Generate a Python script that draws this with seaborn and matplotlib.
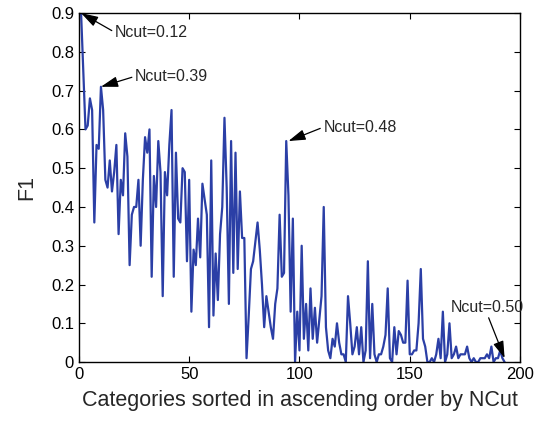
import matplotlib
matplotlib.use("Agg")
import matplotlib.pyplot as plt
import seaborn as sns
import pandas as pd

f1_part1 = [0.90, 0.75, 0.60, 0.61, 0.68, 0.65, 0.36, 0.56, 0.55, 0.71,
            0.65, 0.47, 0.45, 0.52, 0.44, 0.49, 0.56, 0.33, 0.47, 0.43,
            0.59, 0.53, 0.25, 0.38, 0.40, 0.40, 0.47, 0.30, 0.47, 0.58,
            0.54, 0.60, 0.22, 0.48, 0.40, 0.57, 0.49, 0.17, 0.49, 0.43,
            0.56, 0.65, 0.22, 0.54, 0.37, 0.36, 0.50, 0.49, 0.26, 0.47]
f1_part2 = [0.13, 0.29, 0.25, 0.37, 0.27, 0.46, 0.42, 0.38, 0.09, 0.52,
            0.12, 0.28, 0.16, 0.33, 0.40, 0.63, 0.45, 0.15, 0.57, 0.23,
            0.54, 0.24, 0.44, 0.32, 0.32, 0.01, 0.12, 0.24, 0.26, 0.31,
            0.36, 0.29, 0.20, 0.09, 0.17, 0.13, 0.09, 0.06, 0.15, 0.19,
            0.38, 0.22, 0.23, 0.57, 0.43, 0.13, 0.37, 0.00, 0.13, 0.03]
f1_part3 = [0.30, 0.06, 0.15, 0.03, 0.19, 0.06, 0.14, 0.05, 0.11, 0.17,
            0.40, 0.09, 0.03, 0.01, 0.06, 0.04, 0.10, 0.05, 0.02, 0.02,
            0.00, 0.17, 0.10, 0.02, 0.04, 0.09, 0.02, 0.09, 0.00, 0.03,
            0.26, 0.01, 0.15, 0.02, 0.00, 0.02, 0.02, 0.04, 0.07, 0.19,
            0.01, 0.00, 0.09, 0.02, 0.08, 0.07, 0.05, 0.05, 0.21, 0.02]
f1_part4 = [0.02, 0.03, 0.03, 0.10, 0.24, 0.06, 0.04, 0.00, 0.00, 0.01,
            0.00, 0.02, 0.06, 0.01, 0.13, 0.00, 0.02, 0.10, 0.01, 0.02,
            0.04, 0.01, 0.02, 0.02, 0.02, 0.04, 0.01, 0.00, 0.01, 0.00,
            0.00, 0.01, 0.01, 0.01, 0.02, 0.01, 0.04, 0.00, 0.01, 0.01,
            0.03, 0.01, 0.00]
f1_values = f1_part1 + f1_part2 + f1_part3 + f1_part4
categories = list(range(1, len(f1_values) + 1))

x_ticks = [0, 50, 100, 150, 200]
y_ticks = [0, 0.1, 0.2, 0.3, 0.4, 0.5, 0.6, 0.7, 0.8, 0.9]
y_tick_labels = ["0", "0.1", "0.2", "0.3", "0.4", "0.5", "0.6", "0.7", "0.8", "0.9"]

annotations = [
    ("Ncut=0.12", 1, 0.90),
    ("Ncut=0.39", 10, 0.71),
    ("Ncut=0.48", 95, 0.57),
    ("Ncut=0.50", 193, 0.01),
]
text_pos = [(16.4, 0.85), (25.5, 0.737), (110.9, 0.606), (168.6, 0.142)]

sns.set_style("ticks")
plt.rcParams["font.family"] = ["Liberation Sans", "DejaVu Sans"]
plt.rcParams["xtick.direction"] = "in"
plt.rcParams["ytick.direction"] = "in"

fig = plt.figure(figsize=(5.44, 4.22), dpi=100)
ax = fig.add_axes([0.145, 0.142, 0.811, 0.827])

df = pd.DataFrame({"cat": categories, "F1": f1_values})
sns.lineplot(data=df, x="cat", y="F1", ax=ax, color="#2b3fa6", linewidth=1.6)

ax.set_xlim(0, 200)
ax.set_ylim(0, 0.9)
ax.set_xticks(x_ticks)
ax.set_yticks(y_ticks)
ax.set_yticklabels(y_tick_labels)
ax.tick_params(axis="both", which="both", direction="in", top=True, right=True,
               labelsize=12, length=4, width=0.8, colors="black")
for s in ax.spines.values():
    s.set_linewidth(1.0)
    s.set_color("black")

ax.set_xlabel("Categories sorted in ascending order by NCut", fontsize=15.5, labelpad=6)
ax.set_ylabel("F1", fontsize=15.5, labelpad=10)

arrowprops = dict(arrowstyle="-|>,head_length=0.9,head_width=0.28", color="black",
                  lw=0.9, shrinkA=0, shrinkB=0)
for i, (txt, xv, yv) in enumerate(annotations):
    tx, ty = text_pos[i]
    if i == 3:
        ap = dict(arrowprops, relpos=(0.5, 0.0))
    else:
        ap = dict(arrowprops, relpos=(0.0, 0.5))
    ax.annotate(txt, xy=(xv, yv), xytext=(tx, ty), textcoords="data",
                fontsize=11.5, ha="left", va="center", arrowprops=ap,
                annotation_clip=False)

fig.savefig("out.png", dpi=100)
